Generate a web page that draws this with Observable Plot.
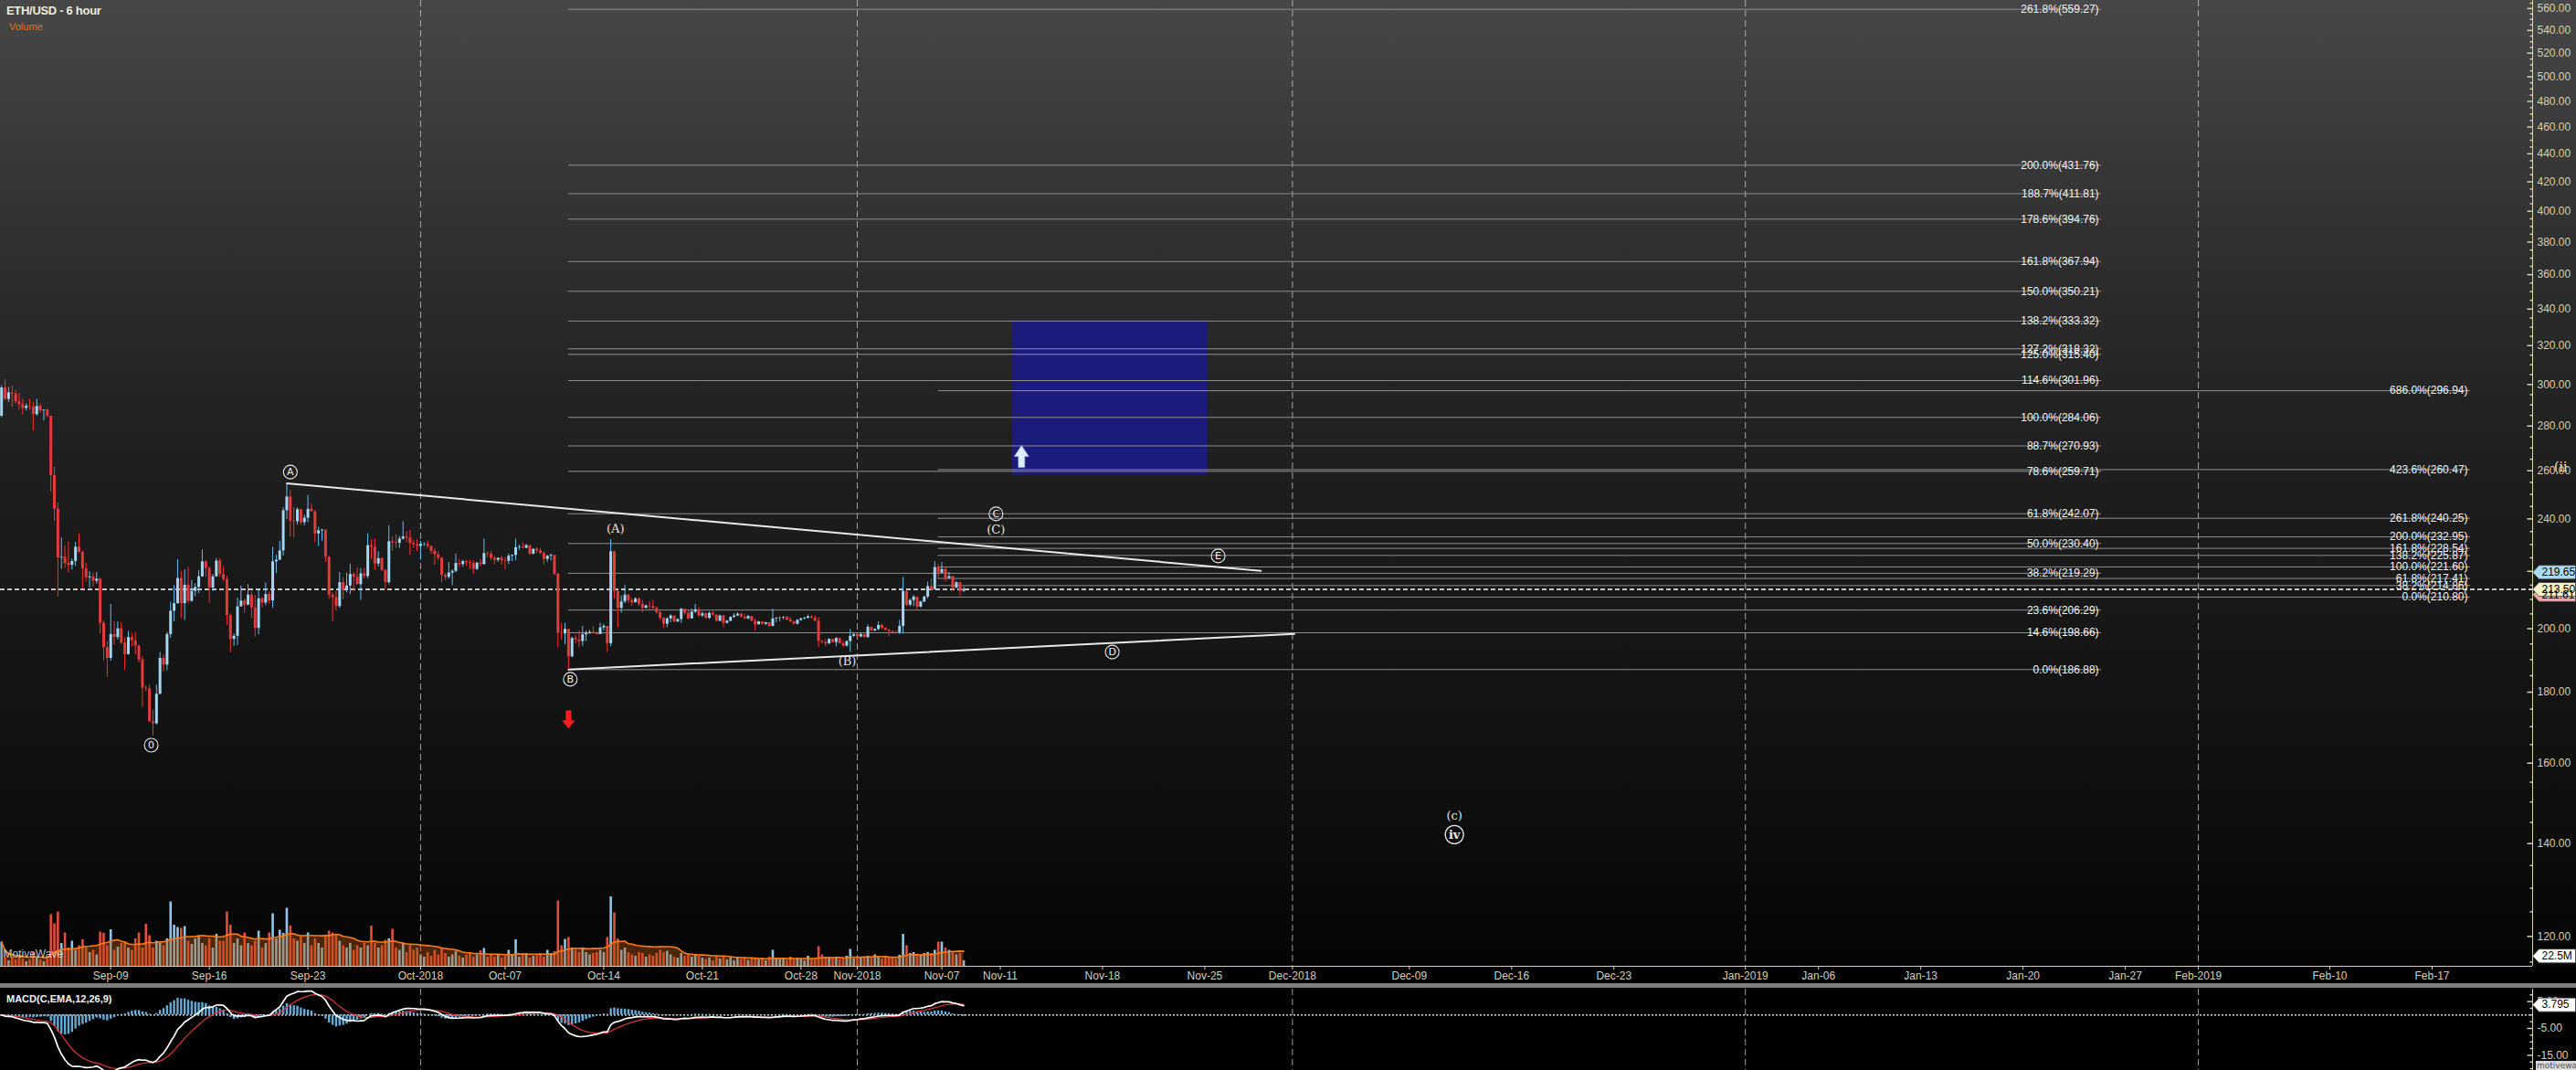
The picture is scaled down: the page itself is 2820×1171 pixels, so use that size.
<!DOCTYPE html>
<html><head><meta charset="utf-8">
<script src="https://cdn.jsdelivr.net/npm/d3@7"></script>
<script src="https://cdn.jsdelivr.net/npm/@observablehq/plot@0.6"></script>
<style>
html,body{margin:0;padding:0;background:#000;}
#root{position:relative;width:2820px;height:1171px;overflow:hidden;background:#000;font-family:"Liberation Sans",Arial,sans-serif;}
#pricebg{position:absolute;left:0;top:0;width:2820px;height:1058px;background:linear-gradient(#474747 0px,#2d2d2d 300px,#1f1f1f 500px,#161616 700px,#0e0e0e 900px,#040404 1058px);}
.abs{position:absolute;}
</style></head>
<body><div id="root"><div id="pricebg"></div></div>
<script>
// ---------------- DATA ----------------
const firstOpen = 284.6;
const closes = [
298.3,292.7,295.9,295.3,291.5,290.2,288.3,289.3,289.0,285.4,
289.3,287.2,287.5,284.6,257.9,243.9,225.0,225.2,222.9,222.2,
223.6,229.0,227.0,220.9,217.7,218.0,216.4,217.2,201.8,193.8,
190.4,198.1,197.1,200.0,195.3,191.6,197.1,196.0,194.3,189.9,
181.2,181.0,171.4,170.8,179.4,190.4,188.3,198.1,205.9,208.5,
217.4,208.5,215.0,209.3,212.8,214.2,218.0,223.5,221.0,214.0,
218.0,223.8,218.9,217.0,204.4,196.5,197.5,207.4,209.4,208.0,
211.5,207.0,200.1,210.2,208.7,211.7,209.5,223.5,224.1,227.6,
243.3,248.9,
239.1,238.9,243.7,238.5,240.3,243.9,242.9,234.1,235.3,235.6,
225.2,211.5,210.6,207.5,215.9,213.2,214.7,218.9,217.8,215.2,
219.1,218.1,229.6,229.0,222.7,224.7,220.3,215.9,231.1,230.7,
230.5,232.1,232.9,232.5,230.4,229.9,229.3,230.1,230.2,229.3,
227.5,226.1,224.8,218.5,217.8,219.4,220.0,222.9,222.5,223.6,
223.2,222.9,220.7,223.0,222.5,226.6,226.4,224.8,224.1,224.8,
223.9,223.7,225.6,225.9,228.8,229.0,228.6,229.6,226.4,228.2,
227.6,226.7,224.4,225.6,225.9,218.9,198.5,198.3,199.8,190.9,
196.8,196.3,195.8,198.0,198.5,198.8,198.5,198.1,200.3,200.8,
195.1,227.3,212.8,206.9,209.1,211.5,209.6,208.8,210.1,208.3,
206.9,207.7,207.5,206.9,205.4,203.5,201.5,203.3,204.3,202.3,
203.1,206.6,205.2,203.3,205.6,206.4,204.3,205.0,203.5,205.2,
204.6,202.5,204.3,201.8,202.5,203.8,204.3,204.9,203.9,203.3,
204.1,202.5,201.3,202.3,201.5,202.0,200.8,203.3,203.5,203.6,
203.8,203.0,202.3,201.5,202.8,203.3,203.5,204.0,203.6,202.5,
195.8,195.5,195.0,196.5,195.5,196.8,195.1,194.3,195.8,197.5,
198.1,197.3,198.1,197.1,200.5,199.3,199.8,201.1,200.1,199.5,
199.1,198.8,198.7,200.8,212.8,208.0,209.6,210.8,207.3,209.1,
210.8,214.5,213.4,221.4,219.4,220.7,217.4,218.1,213.9,215.9,212.8,213.5];
const highs = [
299.4,302.4,298.6,299.4,297.1,295.6,292.7,290.5,292.7,291.2,
292.7,290.5,287.5,288.0,284.6,261.4,246.4,232.5,229.4,230.9,
224.5,230.9,234.1,227.6,223.0,219.9,219.4,219.6,217.6,202.6,
195.8,208.3,202.5,202.3,202.1,197.1,199.1,198.5,198.8,194.6,
190.9,181.9,182.1,174.7,182.1,192.3,191.4,198.8,209.0,214.8,
224.3,219.9,220.5,221.4,216.7,215.5,220.3,228.0,224.0,221.6,
218.9,224.7,224.6,221.8,218.3,205.0,198.3,210.4,214.7,210.2,
215.2,212.6,211.4,213.0,210.7,215.8,212.6,229.0,226.0,231.3,
244.6,254.5,
251.5,244.5,244.5,243.9,241.5,249.6,245.8,243.3,236.7,235.8,
235.5,225.6,212.3,212.8,219.6,217.8,219.4,222.7,219.6,221.4,
221.1,221.1,234.1,231.9,232.1,227.3,225.0,220.7,237.3,232.9,
233.7,233.1,238.9,234.9,235.5,231.5,231.9,231.3,230.7,231.3,
229.6,228.4,227.3,225.2,219.2,223.3,220.5,226.4,224.4,224.1,
224.0,224.1,223.9,223.3,224.4,232.1,227.3,227.5,225.6,225.0,
225.6,225.0,226.4,226.1,232.1,229.8,230.7,230.1,229.8,228.4,
228.8,228.6,227.3,225.9,226.4,225.9,219.4,201.8,201.8,199.8,
197.3,197.8,199.3,200.8,199.3,199.5,200.8,198.8,201.8,201.5,
200.8,231.9,227.5,212.8,211.2,215.0,211.7,210.1,210.6,210.6,
209.6,208.1,209.1,209.6,207.5,205.9,203.8,203.8,204.8,204.3,
203.3,206.9,206.6,205.9,206.6,208.3,207.2,205.6,205.4,205.6,
205.8,204.5,204.6,204.5,202.8,204.0,205.1,205.4,205.2,204.9,
204.5,204.1,203.3,202.5,202.3,202.2,202.0,206.6,203.8,203.9,
204.1,204.2,203.8,202.5,203.1,203.6,203.9,204.6,204.4,204.3,
203.8,196.3,196.5,196.8,196.5,197.1,196.3,196.0,196.0,199.8,
198.3,198.3,198.5,198.0,201.3,200.5,200.0,202.3,201.5,200.5,
199.9,199.3,199.2,202.8,217.8,213.0,210.1,211.4,210.8,209.4,
211.2,216.1,217.2,223.6,222.7,223.3,221.4,219.6,218.1,216.3,216.1,214.3];
const lows = [
283.9,292.0,291.2,289.0,290.5,287.5,285.4,287.1,287.5,277.5,
284.6,286.1,282.5,283.9,251.0,239.1,210.8,220.7,221.2,219.4,
220.5,221.8,226.7,213.6,216.1,214.0,214.4,215.4,198.3,189.6,
184.5,189.5,194.5,196.3,194.8,186.6,191.4,194.0,191.4,189.0,
175.6,180.1,171.2,167.4,170.5,179.2,186.1,186.6,196.8,202.3,
208.3,203.4,202.8,208.3,209.0,211.0,212.0,217.8,217.8,208.7,
212.8,217.8,217.8,216.3,201.1,192.3,194.2,194.5,207.4,205.2,
207.8,203.4,197.3,198.0,207.0,207.8,208.3,206.9,219.2,224.0,
225.7,239.7,
232.9,232.5,237.6,237.6,237.3,238.5,242.7,230.7,229.3,231.3,
223.3,210.1,202.3,205.9,206.9,209.8,212.3,211.7,212.8,215.0,
209.6,217.2,217.2,224.4,220.3,221.6,220.0,213.4,215.2,227.5,
228.6,228.6,231.7,230.7,225.9,228.5,227.3,224.1,229.3,228.4,
226.4,222.2,223.9,215.9,216.7,217.2,214.8,219.4,221.4,221.6,
221.8,220.7,218.9,220.3,221.6,222.2,225.0,223.9,222.5,223.3,
222.2,220.5,222.5,223.6,223.9,227.8,228.4,228.4,225.9,226.1,
226.5,226.1,222.5,223.3,223.9,218.5,193.8,196.3,194.8,186.9,
190.6,195.1,193.8,194.3,195.8,198.1,198.3,197.9,198.1,199.3,
192.3,194.1,210.0,200.3,205.2,208.5,208.5,207.7,208.8,207.5,
205.4,206.7,206.4,206.4,204.9,202.8,200.1,200.3,202.0,202.0,
202.0,201.8,204.6,203.1,203.3,205.1,203.8,203.8,203.3,203.1,
204.2,202.3,202.3,200.3,201.6,202.3,203.5,204.1,203.6,203.1,
203.0,202.3,199.3,201.3,201.3,201.0,200.5,200.6,202.0,202.3,
203.0,202.6,202.1,201.2,201.3,202.5,203.0,203.3,203.2,202.3,
193.8,195.0,194.1,195.0,195.3,194.1,194.9,193.8,194.0,192.3,
197.2,197.0,197.1,196.9,196.9,199.0,199.0,199.3,199.8,199.3,
197.3,198.6,198.4,198.1,198.4,207.5,207.5,207.5,206.4,207.0,
208.8,210.1,213.0,213.2,217.2,218.9,216.1,217.2,212.8,214.1,211.2,212.5];
// volume in millions
const volumes = [
53,18,12,20,14,22,16,10,14,30,18,14,10,16,
113,93,119,50,73,40,55,35,45,58,40,30,35,25,
75,72,45,80,35,42,50,53,40,35,60,73,40,92,
67,40,55,50,45,60,141,90,85,83,87,55,48,60,
67,50,45,60,40,70,55,55,119,90,50,60,45,73,
50,45,55,77,40,50,73,115,60,79,72,127,
88,60,55,65,50,73,45,60,50,40,65,77,73,70,
55,45,40,50,35,45,40,50,45,88,50,40,45,57,60,81,40,35,50,30,45,35,40,
25,20,30,22,35,25,38,28,20,25,32,22,18,25,28,20,25,34,39,20,
25,20,25,18,22,35,25,58,20,25,28,18,22,25,28,20,35,28,32,
143,45,59,63,40,35,30,40,30,25,28,30,35,30,63,152,117,60,
35,40,30,25,22,30,28,20,25,22,28,35,30,33,25,20,18,28,22,25,20,24,22,18,
15,18,12,20,16,22,14,18,12,20,15,17,13,19,16,14,18,12,20,35,16,15,18,13,20,14,18,16,12,22,15,15,
43,
25,20,18,16,20,14,18,22,37,16,20,
18,20,22,18,25,20,16,22,18,20,15,24,70,45,28,30,25,22,28,30,28,35,53,53,40,35,30,25,28,12];

const fibSet1 = [
 {pct:"261.8%",v:559.27},{pct:"200.0%",v:431.76},{pct:"188.7%",v:411.81},{pct:"178.6%",v:394.76},
 {pct:"161.8%",v:367.94},{pct:"150.0%",v:350.21},{pct:"138.2%",v:333.32},{pct:"125.0%",v:315.40},
 {pct:"127.2%",v:318.32},{pct:"114.6%",v:301.96},{pct:"100.0%",v:284.06},{pct:"88.7%",v:270.93},
 {pct:"78.6%",v:259.71},{pct:"61.8%",v:242.07},{pct:"50.0%",v:230.40},{pct:"38.2%",v:219.29},
 {pct:"23.6%",v:206.29},{pct:"14.6%",v:198.66},{pct:"0.0%",v:186.88}];
const fibSet2 = [
 {pct:"0.0%",v:210.80},{pct:"38.2%",v:214.86},{pct:"138.2%",v:225.87},{pct:"61.8%",v:217.41},
 {pct:"100.0%",v:221.60},{pct:"161.8%",v:228.54},{pct:"200.0%",v:232.95},{pct:"261.8%",v:240.25},
 {pct:"423.6%",v:260.47},{pct:"686.0%",v:296.94}];
const fib1Start = new Date("2018-10-11T12:00Z"), fib1Label = new Date("2019-01-25T09:00Z");
const fib2Start = new Date("2018-11-06T18:00Z"), fib2Label = new Date("2019-02-19T15:00Z");

const upperLine = [{t:new Date("2018-09-21T12:00Z"),p:254.6},{t:new Date("2018-11-28T20:00Z"),p:220.15}];
const lowerLine = [{t:new Date("2018-10-11T12:00Z"),p:186.88},{t:new Date("2018-12-01T03:00Z"),p:198.27}];
const targetBox = [{t1:new Date("2018-11-11T20:00Z"),t2:new Date("2018-11-25T05:00Z"),p1:258.0,p2:333.32}];

const circledLabels = [
 {t:new Date("2018-09-11T21:00Z"),p:164.85,s:"0"},
 {t:new Date("2018-09-21T18:00Z"),p:259.4,s:"A"},
 {t:new Date("2018-10-11T15:00Z"),p:183.9,s:"B"},
 {t:new Date("2018-11-10T17:00Z"),p:242.0,s:"C"},
 {t:new Date("2018-11-18T16:00Z"),p:192.4,s:"D"},
 {t:new Date("2018-11-25T22:00Z"),p:225.7,s:"E"}];
const romanLabels = [{t:new Date("2018-12-12T02:00Z"),p:142.1,s:"iv"}];
const parenLabels = [
 {t:new Date("2018-10-14T20:00Z"),p:236.2,s:"(A)"},
 {t:new Date("2018-10-31T07:00Z"),p:189.3,s:"(B)"},
 {t:new Date("2018-11-10T17:00Z"),p:235.8,s:"(C)"},
 {t:new Date("2018-12-12T02:00Z"),p:146.5,s:"(c)"}];
const edgeLabels = [{p:261.4,s:"(ii"}];
const downArrows = [{t:new Date("2018-10-11T12:00Z"),p:172.0}];
const upArrows = [{t:new Date("2018-11-12T11:00Z"),p:266.2}];

const monthLines = ["2018-10-01","2018-11-01","2018-12-01","2019-01-01","2019-02-01"].map(d=>new Date(d+"T00:00Z"));
const xTickDates = ["2018-09-09","2018-09-16","2018-09-23","2018-10-01","2018-10-07","2018-10-14","2018-10-21","2018-10-28","2018-11-01","2018-11-07","2018-11-11","2018-11-18","2018-11-25","2018-12-01","2018-12-09","2018-12-16","2018-12-23","2019-01-01","2019-01-06","2019-01-13","2019-01-20","2019-01-27","2019-02-01","2019-02-10","2019-02-17"].map(d=>new Date(d+"T00:00Z"));
const xTickLabels = ["Sep-09","Sep-16","Sep-23","Oct-2018","Oct-07","Oct-14","Oct-21","Oct-28","Nov-2018","Nov-07","Nov-11","Nov-18","Nov-25","Dec-2018","Dec-09","Dec-16","Dec-23","Jan-2019","Jan-06","Jan-13","Jan-20","Jan-27","Feb-2019","Feb-10","Feb-17"];
const priceTicks = d3.range(120, 561, 20);
const priceMinor = d3.range(115, 566, 5).filter(v => v % 20 !== 0);
const currentPrice = [213.50];
const priceTags = [{v:211.61,bg:"#f3a4ac"},{v:219.65,bg:"#acdcf4"},{v:213.50,bg:"#f4f3c6"}];
const volumeTag = [{v:22.5,s:"22.5M"}];
const macdTicks = [5,-5,-15];
const macdMinor = [7.5,2.5,0,-2.5,-7.5,-10,-12.5,-17.5,-20];
const macdTag = [{v:3.795,s:"3.795"}];

// ---------------- DERIVED ----------------
const T0 = Date.UTC(2018, 8, 1, 6);
const bars = closes.map((c, i) => {
  const o = i === 0 ? firstOpen : closes[i - 1];
  return {t: new Date(T0 + i * 6 * 3600e3), o, c,
    h: Math.max(highs[i], o, c), l: Math.min(lows[i], o, c), v: volumes[i] ?? 0, up: c >= o};
});
function ema(arr, n) { const a = 2 / (n + 1); let e; return arr.map((v, i) => (e = i === 0 ? v : e + a * (v - e))); }
const e12 = ema(closes, 12), e26 = ema(closes, 26);
const macdLine = closes.map((c, i) => e12[i] - e26[i]);
const signal = ema(macdLine, 9);
const macd = bars.map((b, i) => ({t: b.t, m: macdLine[i], s: signal[i], h: macdLine[i] - signal[i]}));

// ---------------- STYLE ----------------
const AX = "#d6d0ae";
const UP_BODY = "#a6d6ef", UP_WICK = "#62bff0", DN_BODY = "#e33b3b", DN_WICK = "#ff2b2b";
const FONT = "Liberation Sans, Arial, sans-serif";
const svgStyle = {background: "transparent", fontFamily: FONT, overflow: "visible"};
const xScale = () => ({type: "utc", domain: [new Date("2018-09-09T00:00Z"), new Date("2018-11-07T00:00Z"), new Date("2019-02-17T00:00Z")], range: [120.7, 1030.5, 2662], axis: null});
const sym = f => ({draw: f});
const tickMajor = sym(c => { c.moveTo(-6, 0); c.lineTo(0, 0); });
const tickMinorS = sym(c => { c.moveTo(-3, 0); c.lineTo(0, 0); });
const tagSym = sym(c => { c.moveTo(0, 0); c.lineTo(7, -7.5); c.lineTo(47, -7.5); c.lineTo(47, 7.5); c.lineTo(7, 7.5); c.closePath(); });
const downSym = sym(c => { c.moveTo(-3, -10); c.lineTo(3, -10); c.lineTo(3, 1); c.lineTo(7, 1); c.lineTo(0, 10); c.lineTo(-7, 1); c.lineTo(-3, 1); c.closePath(); });
const upSym = sym(c => { c.moveTo(-3.5, 12); c.lineTo(3.5, 12); c.lineTo(3.5, 0); c.lineTo(8, 0); c.lineTo(0, -12); c.lineTo(-8, 0); c.lineTo(-3.5, 0); c.closePath(); });
const labelMap = new Map(xTickDates.map((d, i) => [+d, xTickLabels[i]]));

const root = document.getElementById("root");
function place(el, top) { el.style.position = "absolute"; el.style.left = "0px"; el.style.top = top + "px"; root.appendChild(el); }

// ---------------- PRICE PANEL ----------------
const price = Plot.plot({
  width: 2820, height: 1058, marginLeft: 0, marginRight: 48, marginTop: 0, marginBottom: 0,
  style: svgStyle,
  x: xScale(),
  y: {type: "log", domain: [114.02, 567.57], range: [1058, 0], axis: null},
  marks: [
    Plot.ruleX(monthLines, {stroke: "#d0d0d0", strokeOpacity: 0.75, strokeDasharray: "7,4"}),
    Plot.rect(targetBox, {x1: "t1", x2: "t2", y1: "p1", y2: "p2", fill: "#1b1b7c"}),
    Plot.ruleY(fibSet1, {y: "v", x1: fib1Start, x2: fib1Label, stroke: "#8e8e8e", strokeWidth: 1}),
    Plot.ruleY(fibSet2, {y: "v", x1: fib2Start, x2: fib2Label, stroke: "#8e8e8e", strokeWidth: 1}),
    Plot.ruleY(currentPrice, {stroke: "#ffffff", strokeDasharray: "5,3", strokeWidth: 1.3}),
    Plot.line(upperLine, {x: "t", y: "p", stroke: "#e8e8e8", strokeWidth: 2}),
    Plot.line(lowerLine, {x: "t", y: "p", stroke: "#e8e8e8", strokeWidth: 2}),
    Plot.ruleX(bars, {x: "t", y1: "l", y2: "h", stroke: d => d.up ? UP_WICK : DN_WICK, strokeWidth: 1}),
    Plot.ruleX(bars, {x: "t", y1: "o", y2: "c", stroke: d => d.up ? UP_BODY : DN_BODY, strokeWidth: 3}),
    Plot.dot(downArrows, {x: "t", y: "p", symbol: downSym, fill: "#ff1c1c", stroke: "none"}),
    Plot.dot(upArrows, {x: "t", y: "p", symbol: upSym, fill: "#dcefff", stroke: "#8fb4e0", strokeWidth: 0.6}),
    Plot.dot(circledLabels, {x: "t", y: "p", r: 7.5, stroke: "#e6e6e6", strokeWidth: 1.1, fill: "none"}),
    Plot.text(circledLabels, {x: "t", y: "p", text: "s", fill: "#f0f0f0", fontSize: 11, fontFamily: "DejaVu Sans"}),
    Plot.dot(romanLabels, {x: "t", y: "p", r: 10, stroke: "#e6e6e6", strokeWidth: 1.3, fill: "none"}),
    Plot.text(romanLabels, {x: "t", y: "p", text: "s", fill: "#f0f0f0", fontSize: 13, fontWeight: "bold", fontFamily: "DejaVu Serif"}),
    Plot.text(parenLabels, {x: "t", y: "p", text: "s", fill: "#e2e2e2", fontSize: 13, fontFamily: "DejaVu Serif"}),
    Plot.text(edgeLabels, {y: "p", text: "s", frameAnchor: "right", dx: 38, fill: "#e2e2e2", fontSize: 14, fontFamily: "DejaVu Serif"}),
    Plot.text(fibSet1, {x: fib1Label, y: "v", text: d => `${d.pct}(${d.v.toFixed(2)})`, textAnchor: "end", dx: -3, fill: "#f2f2f2", fontSize: 12, ariaLabel: "fibbox"}),
    Plot.text(fibSet2, {x: fib2Label, y: "v", text: d => `${d.pct}(${d.v.toFixed(2)})`, textAnchor: "end", dx: -3, fill: "#f2f2f2", fontSize: 12, ariaLabel: "fibbox"}),
    Plot.axisY({anchor: "right", ticks: priceTicks, tickFormat: d => d.toFixed(2), tickSize: 0, tickPadding: 5, color: AX, fontSize: 12, label: null}),
    Plot.dot(priceTicks, {y: d => d, frameAnchor: "right", symbol: tickMajor, stroke: AX, fill: "none"}),
    Plot.dot(priceMinor, {y: d => d, frameAnchor: "right", symbol: tickMinorS, stroke: AX, fill: "none"}),
    Plot.dot(priceTags, {y: "v", frameAnchor: "right", symbol: tagSym, fill: "bg", stroke: "#444", strokeWidth: 0.8}),
    Plot.text(priceTags, {y: "v", frameAnchor: "right", text: d => d.v.toFixed(2), dx: 10, textAnchor: "start", fill: "#000", fontSize: 12})
  ]
});
place(price, 0);

// ---------------- VOLUME + X AXIS ----------------
const vol = Plot.plot({
  width: 2820, height: 101, marginLeft: 0, marginRight: 48, marginTop: 0, marginBottom: 19,
  style: svgStyle,
  x: xScale(),
  y: {domain: [0, 164], range: [82, 0], axis: null},
  marks: [
    Plot.ruleX(bars, {x: "t", y1: 0, y2: "v", stroke: d => d.up ? "#8dc6e6" : "#e64c3a", strokeWidth: 2.6}),
    Plot.areaY(bars, Plot.windowY({k: 20, anchor: "end"}, {x: "t", y: "v", fill: "#b4580f", fillOpacity: 0.4})),
    Plot.lineY(bars, Plot.windowY({k: 20, anchor: "end"}, {x: "t", y: "v", stroke: "#ff7b12", strokeWidth: 1.6})),
    Plot.text(["MotiveWave"], {frameAnchor: "bottom-left", dx: 3, dy: -10, textAnchor: "start", fill: "#e0e0e0", fillOpacity: 0.85, fontSize: 12}),
    Plot.ruleY([0], {stroke: AX, strokeWidth: 1}),
    Plot.axisX({anchor: "bottom", ticks: xTickDates, tickFormat: d => labelMap.get(+d), tickSize: 4, tickPadding: 2, color: AX, fontSize: 12, label: null}),
    Plot.dot(volumeTag, {y: "v", frameAnchor: "right", symbol: tagSym, fill: "#ffffff", stroke: "#444", strokeWidth: 0.8}),
    Plot.text(volumeTag, {y: "v", frameAnchor: "right", text: "s", dx: 10, textAnchor: "start", fill: "#000", fontSize: 12})
  ]
});
place(vol, 975);

// ---------------- MACD ----------------
const macdPlot = Plot.plot({
  width: 2820, height: 89, marginLeft: 0, marginRight: 48, marginTop: 0, marginBottom: 0,
  style: svgStyle,
  x: xScale(),
  y: {domain: [-20.65, 9.63], range: [89, 0], axis: null},
  marks: [
    Plot.ruleX(monthLines, {stroke: "#d0d0d0", strokeOpacity: 0.75, strokeDasharray: "7,4"}),
    Plot.ruleY([0], {stroke: "#ffffff", strokeDasharray: "2,2", strokeWidth: 1.2}),
    Plot.ruleX(macd, {x: "t", y1: 0, y2: "h", stroke: "#63abd9", strokeWidth: 2.4}),
    Plot.line(macd, {x: "t", y: "s", stroke: "#e23434", strokeWidth: 1.2}),
    Plot.line(macd, {x: "t", y: "m", stroke: "#ffffff", strokeWidth: 1.7}),
    Plot.axisY({anchor: "right", ticks: macdTicks, tickFormat: d => d.toFixed(2), tickSize: 0, tickPadding: 5, color: AX, fontSize: 12, label: null}),
    Plot.dot(macdTicks, {y: d => d, frameAnchor: "right", symbol: tickMajor, stroke: AX, fill: "none"}),
    Plot.dot(macdMinor, {y: d => d, frameAnchor: "right", symbol: tickMinorS, stroke: AX, fill: "none"}),
    Plot.dot(macdTag, {y: "v", frameAnchor: "right", symbol: tagSym, fill: "#ffffff", stroke: "#444", strokeWidth: 0.8}),
    Plot.text(macdTag, {y: "v", frameAnchor: "right", text: "s", dx: 10, textAnchor: "start", fill: "#000", fontSize: 12})
  ]
});
place(macdPlot, 1082);

// ---------------- HTML chrome ----------------
function div(css, text) { const d = document.createElement("div"); d.className = "abs"; d.style.cssText = css; if (text) d.textContent = text; root.appendChild(d); return d; }
div("left:0;top:1076px;width:2820px;height:5px;background:#7e7e7e;");
div("left:2772px;top:0;width:1px;height:1057px;background:" + AX + ";");
div("left:2772px;top:1082px;width:1px;height:89px;background:" + AX + ";");
div("left:7px;top:4px;font:bold 13px 'Liberation Sans',Arial,sans-serif;color:#ecead8;letter-spacing:-0.3px;", "ETH/USD - 6 hour");
div("left:10px;top:23px;font:11px 'Liberation Sans',Arial,sans-serif;color:#e0701a;", "Volume");
div("left:7px;top:1087px;font:bold 11px 'Liberation Sans',Arial,sans-serif;color:#f4f4f4;", "MACD(C,EMA,12,26,9)");
div("left:2776px;top:1161px;padding:0 1px;font:9px 'DejaVu Sans',sans-serif;color:#555;background:#d8d8d8;line-height:10px;", "motivewave.com");

// label boxes behind fib texts
const NS = "http://www.w3.org/2000/svg";
document.querySelectorAll('g[aria-label="fibbox"] text').forEach(t => {
  const b = t.getBBox();
  const r = document.createElementNS(NS, "rect");
  r.setAttribute("x", b.x - 3); r.setAttribute("y", b.y - 1);
  r.setAttribute("width", b.width + 6); r.setAttribute("height", b.height + 2);
  r.setAttribute("rx", 3); r.setAttribute("fill", "#050505");
  r.setAttribute("stroke", "#8a8a8a"); r.setAttribute("stroke-width", "1");
  const tr = t.getAttribute("transform"); if (tr) r.setAttribute("transform", tr);
  t.parentNode.insertBefore(r, t);
});
</script>
</body></html>
